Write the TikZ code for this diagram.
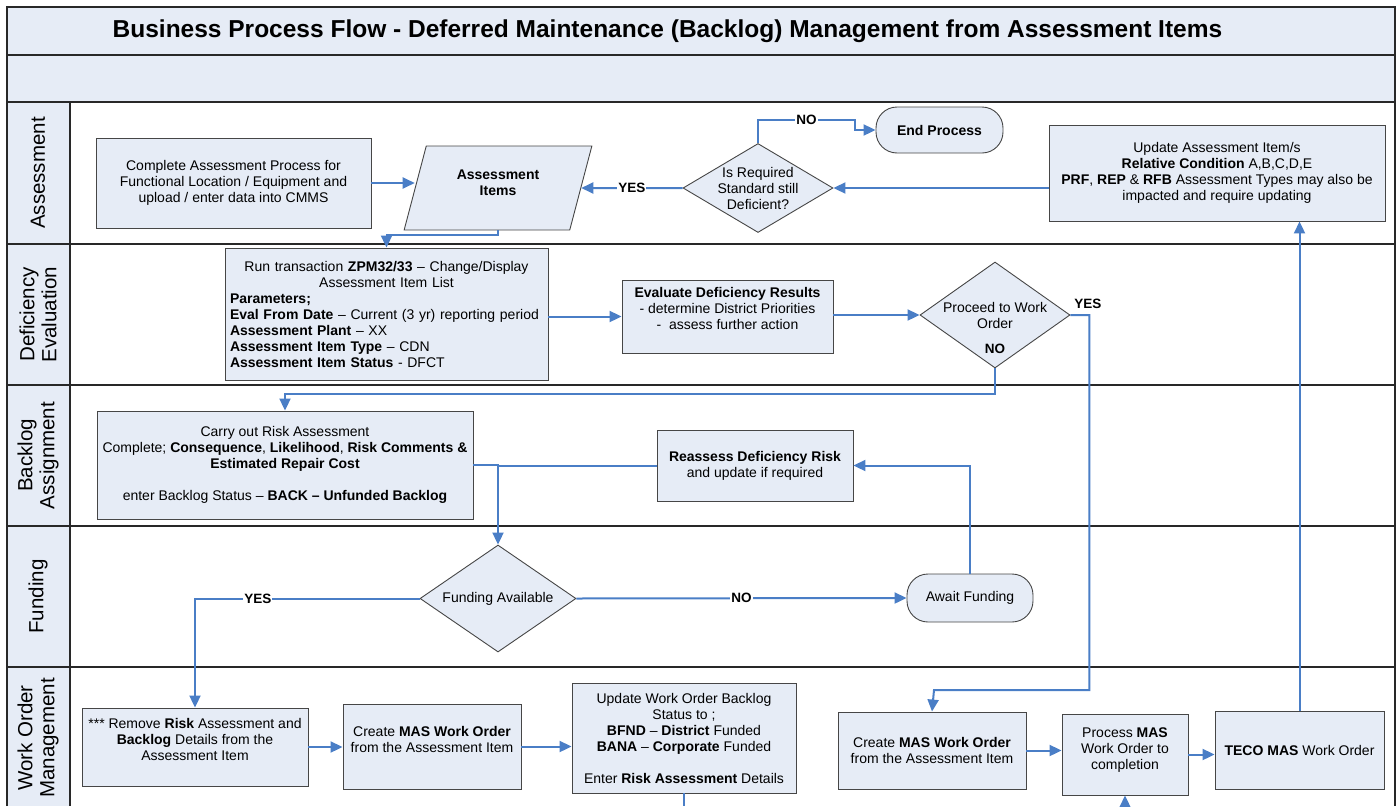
\documentclass[tikz,border=0pt]{standalone}
\usepackage{fontspec}
\setmainfont{Liberation Sans}
\usetikzlibrary{shapes.geometric,arrows.meta}
\definecolor{lanefill}{RGB}{230,236,246}
\definecolor{flowblue}{RGB}{74,126,198}
\definecolor{boxline}{RGB}{70,70,70}
\definecolor{laneline}{RGB}{40,40,40}
\begin{document}
\begin{tikzpicture}[x=1pt,y=-1pt,
  lane/.style={draw=laneline, line width=1.3pt},
  box/.style={draw=boxline, fill=lanefill, line width=0.9pt, align=center, font=\fontsize{14}{16}\selectfont, inner sep=2pt},
  dec/.style={diamond, draw=boxline, fill=lanefill, line width=0.9pt, align=center, font=\fontsize{14}{16}\selectfont, inner sep=-6pt},
  term/.style={box, rounded corners=21pt},
  flow/.style={draw=flowblue, line width=2pt},
  arr/.style={-{Triangle[length=12pt,width=11pt]}},
  lbl/.style={fill=white, inner sep=1pt, font=\bfseries\fontsize{13.5}{15}\selectfont},
  plainlbl/.style={inner sep=1pt, font=\bfseries\fontsize{13.5}{15}\selectfont},
  lanelbl/.style={rotate=90, align=center, font=\fontsize{20.5}{22}\selectfont}]
\useasboundingbox (0,0) rectangle (1397,806);
% swimlane frame
\fill[lanefill] (7,7) rectangle (1395,102);
\fill[lanefill] (7,102) rectangle (70,806);
\draw[lane] (7,806) -- (7,7) -- (1395,7) -- (1395,806);
\foreach \yy in {55,102,244,385,526,667} \draw[lane] (7,\yy) -- (1395,\yy);
\draw[lane] (70,102) -- (70,806);
\node[font=\bfseries\fontsize{24.5}{26}\selectfont] (title) at (667.5,31) {Business Process Flow - Deferred Maintenance (Backlog) Management from Assessment Items};
\node[lanelbl] (l1) at (38,173) {Assessment};
\node[lanelbl] (l2) at (38,314.5) {Deficiency\\Evaluation};
\node[lanelbl] (l3) at (38,455.5) {Backlog\\Assignment};
\node[lanelbl] (l4) at (38,596.5) {Funding};
\node[lanelbl] (l5) at (38,738) {Work Order\\Management};
% Assessment lane
\node[box, minimum width=275, minimum height=90] (complete) at (233.5,183) {Complete Assessment Process for\\Functional Location / Equipment and\\upload / enter data into CMMS};
\node[trapezium, trapezium stretches=true, trapezium left angle=72, trapezium right angle=108, draw=boxline, fill=lanefill, line width=0.9pt, minimum width=188, minimum height=84, align=center, font=\bfseries\fontsize{14}{16}\selectfont] (ai) at (498,188) {Assessment\\Items\\[-6pt]\mbox{}};
\node[dec, minimum width=150, minimum height=89, aspect=1.69] (dia) at (758,188) {Is Required\\Standard still\\Deficient?};
\node[term, minimum width=127, minimum height=46, font=\bfseries\fontsize{14}{16}\selectfont] (endp) at (939.5,130) {End Process};
\node[box, minimum width=336, minimum height=96] (upd) at (1217,173) {Update Assessment Item/s\\\textbf{Relative Condition} A,B,C,D,E\\\textbf{PRF}, \textbf{REP} \& \textbf{RFB} Assessment Types may also be\\impacted and require updating};
% Deficiency evaluation lane
\node[box, minimum width=323, minimum height=132, text width=313, align=left] (run) at (386.5,314) {{\centering Run transaction \textbf{ZPM32/33} – Change/Display\\Assessment Item List\par}\textbf{Parameters;}\\\textbf{Eval From Date} – Current (3 yr) reporting period\\\textbf{Assessment Plant} – XX\\\textbf{Assessment Item Type} – CDN\\\textbf{Assessment Item Status} - DFCT};
\node[box, minimum width=211, minimum height=73] (eval) at (727.5,316.5) {\textbf{Evaluate Deficiency Results}\\- determine District Priorities\\-\ \ assess further action\\\mbox{}};
\node[dec, minimum width=150, minimum height=106, aspect=1.415] (pro) at (995,315) {Proceed to Work\\Order};
\node[plainlbl] (prono) at (995,349) {NO};
% Backlog lane
\node[box, minimum width=376, minimum height=108] (carry) at (285,465) {Carry out Risk Assessment\\Complete; \textbf{Consequence}, \textbf{Likelihood}, \textbf{Risk Comments \&}\\\textbf{Estimated Repair Cost}\\[16pt]enter Backlog Status – \textbf{BACK – Unfunded Backlog}};
\node[box, minimum width=196, minimum height=71] (reass) at (755,465.5) {\textbf{Reassess Deficiency Risk}\\and update if required};
% Funding lane
\node[dec, minimum width=156, minimum height=107, aspect=1.46] (fund) at (498,598.5) {Funding Available};
\node[term, minimum width=126, minimum height=48] (await) at (970,598) {Await Funding};
% Work order lane
\node[box, minimum width=226, minimum height=78] (remove) at (195,747) {*** Remove \textbf{Risk} Assessment and\\\textbf{Backlog} Details from the\\Assessment Item\\\mbox{}};
\node[box, minimum width=178, minimum height=85] (cm1) at (432,746.5) {Create \textbf{MAS Work Order}\\from the Assessment Item\\[-2pt]\mbox{}};
\node[box, minimum width=224, minimum height=110] (uwo) at (684,738) {Update Work Order Backlog\\Status to ;\\\textbf{BFND} – \textbf{District} Funded\\\textbf{BANA} – \textbf{Corporate} Funded\\[16pt]Enter \textbf{Risk Assessment} Details};
\node[box, minimum width=188, minimum height=77] (cm2) at (932,750.5) {Create \textbf{MAS Work Order}\\from the Assessment Item};
\node[box, minimum width=126, minimum height=81] (proc) at (1125,754.5) {Process \textbf{MAS}\\Work Order to\\completion\\[-4pt]\mbox{}};
\node[box, minimum width=169, minimum height=78] (teco) at (1299.5,750) {\textbf{TECO MAS} Work Order};
\coordinate (bot1) at (684,806);
\coordinate (bot2) at (1125,806);
% connectors
\draw[flow,arr] (complete.east) -- (complete.east -| ai.west);
\draw[flow,arr] (dia.west) -- node[lbl]{YES} (ai.east);
\draw[flow,arr] (dia.north) |- node[lbl,pos=0.75]{NO} (855,120) |- (endp.west);
\draw[flow,arr] (upd.west |- dia.east) -- (dia.east);
\draw[flow,arr] (ai.south) -- ++(0,5) -| (run.north);
\draw[flow,arr] (run.east |- eval.west) -- (eval.west);
\draw[flow,arr] (eval.east |- pro.west) -- (pro.west);
\draw[flow,arr] (pro.east) -- node[plainlbl, above=4pt, xshift=8pt]{YES} ++(19,0) |- (934,690) -- (cm2.north);
\draw[flow,arr] (pro.south) -- ++(0,26) -| (carry.north);
\draw[flow,arr] (carry.east) -| (fund.north);
\draw[flow] (reass.west) -- (reass.west -| fund.north);
\draw[flow,arr] (await.north) |- (reass.east);
\draw[flow,arr] (fund.east) -- node[lbl]{NO} (await.west);
\draw[flow,arr] (fund.west) -| node[lbl,pos=0.36]{YES} (remove.north);
\draw[flow,arr] (remove.east) -- (remove.east -| cm1.west);
\draw[flow,arr] (cm1.east) -- (cm1.east -| uwo.west);
\draw[flow] (uwo.south) -- (bot1);
\draw[flow,arr] (cm2.east) -- (cm2.east -| proc.west);
\draw[flow,arr] (bot2) -- (proc.south);
\draw[flow,arr] (proc.east) -- (proc.east -| teco.west);
\draw[flow,arr] (teco.north) -- (teco.north |- upd.south);
\end{tikzpicture}
\end{document}
